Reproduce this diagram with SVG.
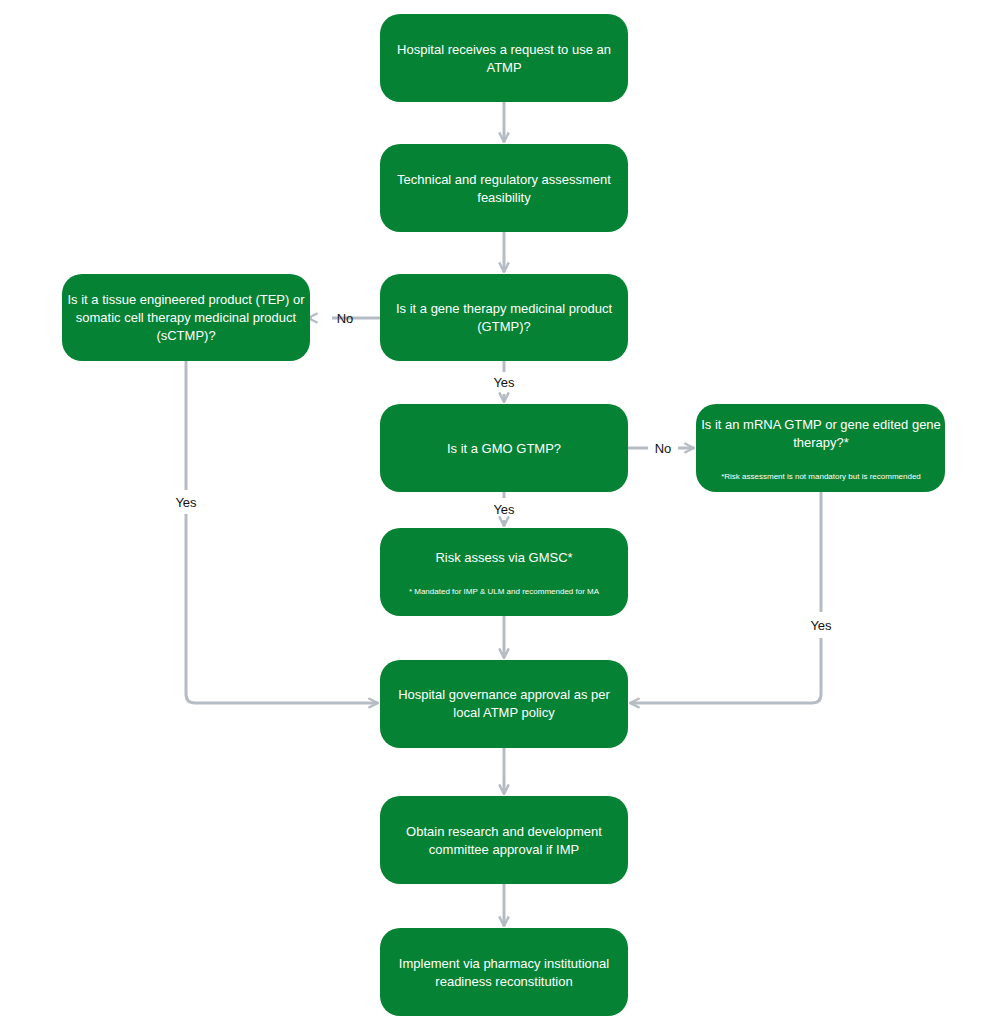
<svg xmlns="http://www.w3.org/2000/svg" width="989" height="1024" viewBox="0 0 989 1024">
<style>
.n{fill:#058233}
.t{fill:#fff;font-family:"Liberation Sans",Arial,sans-serif;font-size:13px;text-anchor:middle}
.s{fill:#fff;font-family:"Liberation Sans",Arial,sans-serif;font-size:8px;text-anchor:middle}
.c{stroke:#b5bcc3;stroke-width:3;fill:none}
.l{fill:#111;font-family:"Liberation Sans",Arial,sans-serif;font-size:13px;text-anchor:middle}
</style>
<defs><marker id="a" viewBox="0 0 10 10" refX="9" refY="5" markerWidth="4" markerHeight="4" orient="auto"><path d="M1 1L9 5L1 9" fill="none" stroke="#b5bcc3" stroke-width="2"/></marker></defs>
<rect width="989" height="1024" fill="#fff"/>
<g id="connectors">
<path class="c" marker-end="url(#a)" d="M504 102V142"/>
<path class="c" marker-end="url(#a)" d="M504 232V272"/>
<path class="c" marker-end="url(#a)" d="M380 318H332M312 318H308"/>
<path class="c" marker-end="url(#a)" d="M504 361V372M504 394V402"/>
<path class="c" marker-end="url(#a)" d="M628 448H648M678 448H694"/>
<path class="c" marker-end="url(#a)" d="M504 492V498M504 520V526"/>
<path class="c" marker-end="url(#a)" d="M504 616V658"/>
<path class="c" marker-end="url(#a)" d="M186 361V490M186 514V694Q186 703 195 703H378"/>
<path class="c" marker-end="url(#a)" d="M821 492V612M821 638V694Q821 703 812 703H630"/>
<path class="c" marker-end="url(#a)" d="M504 748V794"/>
<path class="c" marker-end="url(#a)" d="M504 884V926"/>
<text class="l" x="345" y="323">No</text>
<text class="l" x="504" y="387">Yes</text>
<text class="l" x="663" y="453">No</text>
<text class="l" x="504" y="514">Yes</text>
<text class="l" x="186" y="507">Yes</text>
<text class="l" x="821" y="630">Yes</text>
</g>
<g id="n1"><rect class="n" x="380" y="14" width="248" height="88" rx="20"/><text class="t" x="504" y="54">Hospital receives a request to use an</text><text class="t" x="504" y="72">ATMP</text></g>
<g id="n2"><rect class="n" x="380" y="144" width="248" height="88" rx="20"/><text class="t" x="504" y="184">Technical and regulatory assessment</text><text class="t" x="504" y="202">feasibility</text></g>
<g id="n3"><rect class="n" x="380" y="274" width="248" height="87" rx="20"/><text class="t" x="504" y="313">Is it a gene therapy medicinal product</text><text class="t" x="504" y="331">(GTMP)?</text></g>
<g id="n4"><rect class="n" x="62" y="274" width="248" height="87" rx="20"/><text class="t" x="186" y="304">Is it a tissue engineered product (TEP) or</text><text class="t" x="186" y="322">somatic cell therapy medicinal product</text><text class="t" x="186" y="340">(sCTMP)?</text></g>
<g id="n5"><rect class="n" x="380" y="404" width="248" height="88" rx="20"/><text class="t" x="504" y="453">Is it a GMO GTMP?</text></g>
<g id="n6"><rect class="n" x="696" y="404" width="249" height="88" rx="20"/><text class="t" x="821" y="429">Is it an mRNA GTMP or gene edited gene</text><text class="t" x="821" y="447">therapy?*</text><text class="s" x="821" y="479">*Risk assessment is not mandatory but is recommended</text></g>
<g id="n7"><rect class="n" x="380" y="528" width="248" height="88" rx="20"/><text class="t" x="504" y="562">Risk assess via GMSC*</text><text class="s" x="504" y="594">* Mandated for IMP &amp; ULM and recommended for MA</text></g>
<g id="n8"><rect class="n" x="380" y="660" width="248" height="88" rx="20"/><text class="t" x="504" y="699">Hospital governance approval as per</text><text class="t" x="504" y="717">local ATMP policy</text></g>
<g id="n9"><rect class="n" x="380" y="796" width="248" height="88" rx="20"/><text class="t" x="504" y="836">Obtain research and development</text><text class="t" x="504" y="854">committee approval if IMP</text></g>
<g id="n10"><rect class="n" x="380" y="928" width="248" height="88" rx="20"/><text class="t" x="504" y="968">Implement via pharmacy institutional</text><text class="t" x="504" y="986">readiness reconstitution</text></g>
</svg>
